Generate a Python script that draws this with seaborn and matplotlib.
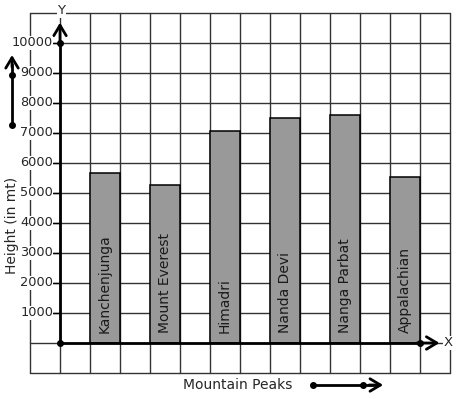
import matplotlib
matplotlib.use("Agg")
import matplotlib.pyplot as plt
import seaborn as sns
import numpy as np

peaks = ["Kanchenjunga", "Mount Everest", "Himadri", "Nanda Devi", "Nanga Parbat", "Appalachian"]
heights = [5650, 5260, 7080, 7490, 7590, 5520]
yticks = [1000, 2000, 3000, 4000, 5000, 6000, 7000, 8000, 9000, 10000]

sns.set_style("white")
plt.rcParams['font.family'] = ['DejaVu Sans']

fig = plt.figure(figsize=(4.57, 3.99), dpi=100)
ax = fig.add_axes([0, 0, 1, 1])

# grid unit g <-> category coordinate c = (g - 1.5) / 2
def c(g):
    return (g - 1.5) / 2.0

sns.barplot(x=peaks, y=heights, color="#999999", width=0.5, edgecolor="black",
            linewidth=1.1, saturation=1, ax=ax, zorder=3)

# graph-paper grid
for g in range(-1, 14):
    ax.plot([c(g), c(g)], [-1000, 11000], color="#333333", lw=1, zorder=1)
for v in range(-1000, 12000, 1000):
    ax.plot([c(-1), c(13)], [v, v], color="#333333", lw=1, zorder=1)

# axes lines
ax.plot([c(0), c(12)], [0, 0], color="black", lw=2, zorder=4)
ax.plot([c(0), c(0)], [0, 10000], color="black", lw=2, zorder=4)
ap = dict(arrowstyle="->,head_length=0.75,head_width=0.45", lw=2, color="black",
          shrinkA=0, shrinkB=0)
ax.annotate("", xy=(c(12.65), 0), xytext=(c(11.9), 0), arrowprops=ap, zorder=4)
ax.annotate("", xy=(c(0), 10680), xytext=(c(0), 9900), arrowprops=ap, zorder=4)
ax.plot([c(0), c(0), c(12)], [0, 10000, 0], "o", color="black", ms=4, zorder=5)

ax.text(c(12.95), 0, "X", ha="center", va="center", fontsize=9.5,
        bbox=dict(facecolor="white", edgecolor="none", pad=0.5), zorder=6)
ax.text(c(0.05), 11080, "Y", ha="center", va="center", fontsize=9.5,
        bbox=dict(facecolor="white", edgecolor="none", pad=0.5), zorder=6)

# y tick labels
for v in yticks:
    ax.plot([c(-0.23), c(0)], [v, v], color="black", lw=1, zorder=4)
    ax.text(c(-0.23), v, str(v), ha="right", va="center", fontsize=9.3,
            bbox=dict(facecolor="white", edgecolor="none", pad=0.3), zorder=6)

# bar labels
for i, name in enumerate(peaks):
    ax.text(i, 330, name, rotation=90, ha="center", va="bottom", fontsize=10,
            color="#1a1a1a", zorder=6)

# y label with arrow
ax.text(c(-1.6), 3930, "Height (in mt)", rotation=90, ha="center", va="center",
        fontsize=10, bbox=dict(facecolor="white", edgecolor="none", pad=0.5), zorder=6)
ax.plot([c(-1.6), c(-1.6)], [7270, 9300], color="black", lw=2, zorder=4)
ax.annotate("", xy=(c(-1.6), 9600), xytext=(c(-1.6), 9200), arrowprops=ap, zorder=4)
ax.plot([c(-1.6), c(-1.6)], [7270, 8930], "o", color="black", ms=4, zorder=5)

# x label with arrow
ax.text(c(5.93), -1400, "Mountain Peaks", ha="center", va="center", fontsize=10, zorder=6)
ax.plot([c(8.43), c(10.5)], [-1400, -1400], color="black", lw=2, zorder=4)
ax.annotate("", xy=(c(10.77), -1400), xytext=(c(10.3), -1400), arrowprops=ap, zorder=4)
ax.plot([c(8.43), c(10.1)], [-1400, -1400], "o", color="black", ms=4, zorder=5)

ax.set_xlim(c(-2), c(13.233))
ax.set_ylim(-1866.7, 11433.3)
ax.set_xticks([])
ax.set_yticks([])
ax.set_xlabel("")
ax.set_ylabel("")
for s in ax.spines.values():
    s.set_visible(False)

fig.savefig("out.png", dpi=100, facecolor="white")
